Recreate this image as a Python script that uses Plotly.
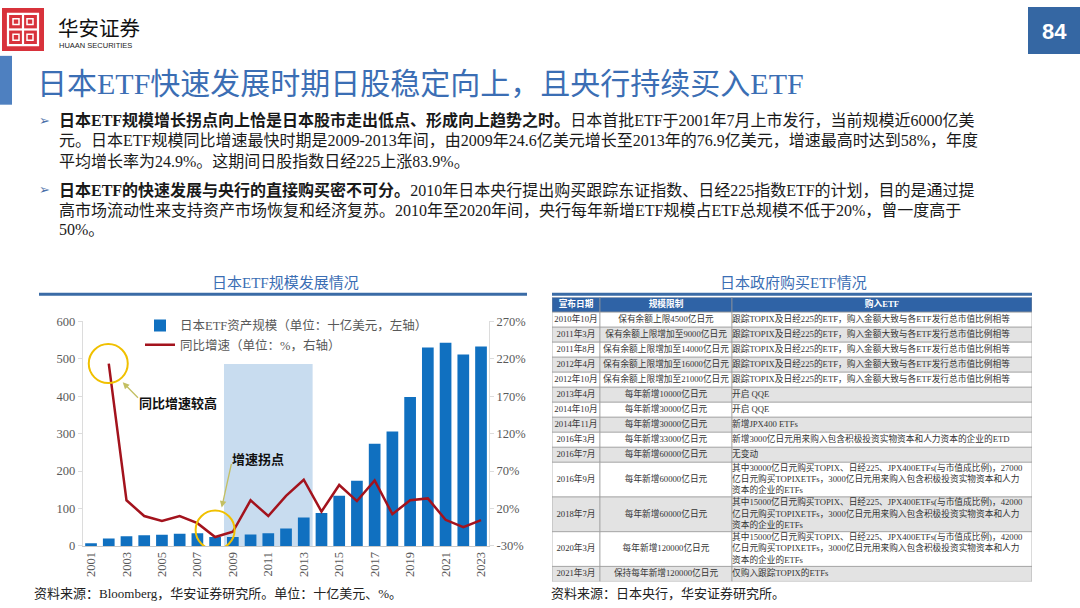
import plotly.graph_objects as go

# ---------------- data ----------------
years = list(range(2001, 2024))
etf_aum = [7, 20, 26, 29, 30, 33, 34, 24, 24, 31, 34, 47, 76, 88, 134, 174, 273, 306, 398, 530, 543, 511, 533]
yoy_growth = [None, 213.5, 31, 10, 3.5, 10, 0.5, -18, -11, 31, 10, 37, 58.5, 16, 51.5, 30, 57.5, 12.5, 31, 33.5, 5, -5, 4.5]
x_ticks = years[::2]
left_ticks = [0, 100, 200, 300, 400, 500, 600]
right_ticks = [-30, 20, 70, 120, 170, 220, 270]
highlight_years = (2009, 2013)
highlight_top = 486

tbl_header = ["宣布日期", "规模限制", "购入ETF"]
tbl_dates = ["2010年10月", "2011年3月", "2011年8月", "2012年4月", "2012年10月", "2013年4月",
             "2014年10月", "2014年11月", "2016年3月", "2016年7月", "2016年9月", "2018年7月",
             "2020年3月", "2021年3月"]
tbl_limits = ["保有余额上限4500亿日元", "保有余额上限增加至9000亿日元", "保有余额上限增加至14000亿日元",
              "保有余额上限增加至16000亿日元", "保有余额上限增加至21000亿日元", "每年新增10000亿日元",
              "每年新增30000亿日元", "每年新增30000亿日元", "每年新增33000亿日元", "每年新增60000亿日元",
              "每年新增60000亿日元", "每年新增60000亿日元", "每年新增120000亿日元", "保持每年新增120000亿日元"]
_same = "跟踪TOPIX及日经225的ETF，购入金额大致与各ETF发行总市值比例相等"
tbl_purchase = [_same, _same, _same, _same, _same, "开启 QQE", "开启 QQE", "新增JPX400 ETFs",
                "新增3000亿日元用来购入包含积极投资实物资本和人力资本的企业的ETD", "无变动",
                "其中30000亿日元购买TOPIX、日经225、JPX400ETFs(与市值成比例)，27000<br>亿日元购买TOPIXETFs，3000亿日元用来购入包含积极投资实物资本和人力<br>资本的企业的ETFs",
                "其中15000亿日元购买TOPIX、日经225、JPX400ETFs(与市值成比例)，42000<br>亿日元购买TOPIXETFs，3000亿日元用来购入包含积极投资实物资本和人力<br>资本的企业的ETFs",
                "其中15000亿日元购买TOPIX、日经225、JPX400ETFs(与市值成比例)，42000<br>亿日元购买TOPIXETFs，3000亿日元用来购入包含积极投资实物资本和人力<br>资本的企业的ETFs",
                "仅购入跟踪TOPIX的ETFs"]

# ---------------- style ----------------
W, H = 1080, 608
SERIF = "Liberation Serif, Noto Sans CJK SC"
CJK = "Noto Sans CJK SC"
BLUE_T = "#3b6eb4"
BAR_C = "#1070c0"
LINE_C = "#a3131d"
CIRC_C = "#f0c000"
ARROW_C = "#c3bf62"
COL_W = [48, 132, 300]
HDR_H = 16
ROW_BASE, ROW_LINE = 5.5, 10.5
TBL_FS = 8.7


def px(x):
    return x / W


def py(y):
    return 1 - y / H


fig = go.Figure()

fig.add_trace(go.Bar(x=years, y=etf_aum, name="日本ETF资产规模（单位：十亿美元，左轴）",
                     marker=dict(color=BAR_C, line=dict(width=0)), width=0.66, yaxis="y"))
fig.add_trace(go.Scatter(x=years, y=yoy_growth, name="同比增速（单位：%，右轴）", mode="lines",
                         line=dict(color=LINE_C, width=2.5), yaxis="y2"))

# ---------------- table geometry (in table-axis units) ----------------
n_lines = [t.count("<br>") + 1 for t in tbl_purchase]
row_h = [HDR_H] + [ROW_BASE + ROW_LINE * n for n in n_lines]
y_edges = [0]
for h in row_h:
    y_edges.append(y_edges[-1] + h)
x_edges = [0]
for w in COL_W:
    x_edges.append(x_edges[-1] + w)
y_mid = [(y_edges[i] + y_edges[i + 1]) / 2 for i in range(len(row_h))]
x_mid = [(x_edges[i] + x_edges[i + 1]) / 2 for i in range(len(COL_W))]

shapes = []
row_fill = ["#2f63a6"] + ["#ffffff" if i % 2 == 0 else "#e3e3e3" for i in range(len(tbl_dates))]
for r in range(len(row_h)):
    for c in range(len(COL_W)):
        shapes.append(dict(type="rect", xref="x3", yref="y3", x0=x_edges[c], x1=x_edges[c + 1],
                           y0=y_edges[r], y1=y_edges[r + 1], fillcolor=row_fill[r],
                           line=dict(color="#9a9a9a", width=0.7), layer="below"))

# header text
fig.add_trace(go.Scatter(x=x_mid, y=[y_mid[0]] * 3, text=["<b>%s</b>" % t for t in tbl_header],
                         mode="text", textposition="middle center", xaxis="x3", yaxis="y3",
                         textfont=dict(size=TBL_FS, color="white", family=SERIF), showlegend=False,
                         hoverinfo="skip"))
# centred columns
fig.add_trace(go.Scatter(x=[x_mid[0]] * len(tbl_dates) + [x_mid[1]] * len(tbl_limits),
                         y=y_mid[1:] + y_mid[1:], text=tbl_dates + tbl_limits,
                         mode="text", textposition="middle center", xaxis="x3", yaxis="y3",
                         textfont=dict(size=TBL_FS, color="#333333", family=SERIF), showlegend=False,
                         hoverinfo="skip"))
# left-aligned column
fig.add_trace(go.Scatter(x=[x_edges[2]] * len(tbl_purchase), y=y_mid[1:], text=tbl_purchase,
                         mode="text", textposition="middle right", xaxis="x3", yaxis="y3",
                         textfont=dict(size=TBL_FS, color="#333333", family=SERIF), showlegend=False,
                         hoverinfo="skip"))

# highlight period
shapes.append(dict(type="rect", xref="x", yref="y", x0=highlight_years[0] - 0.5, x1=highlight_years[1] + 0.5,
                   y0=0, y1=highlight_top, fillcolor="#c8dcef", line=dict(width=0), layer="below"))
# circles around points
i02 = years.index(2002)
i08 = years.index(2008)
shapes.append(dict(type="circle", xref="x", yref="y2", xsizemode="pixel", ysizemode="pixel",
                   xanchor=years[i02], yanchor=yoy_growth[i02], x0=-20, x1=19, y0=-19.5, y1=19.5,
                   line=dict(color=CIRC_C, width=2)))
shapes.append(dict(type="circle", xref="x", yref="y2", xsizemode="pixel", ysizemode="pixel",
                   xanchor=years[i08], yanchor=yoy_growth[i08], x0=-19.5, x1=19.5, y0=-12.5, y1=26.5,
                   line=dict(color=CIRC_C, width=2)))
# slide decorations
shapes += [
    dict(type="rect", xref="paper", yref="paper", x0=px(2), x1=px(44), y0=py(45), y1=py(1),
         fillcolor="#d8323b", line=dict(width=0)),
    dict(type="rect", xref="paper", yref="paper", x0=px(8), x1=px(38), y0=py(39), y1=py(7),
         fillcolor="rgba(0,0,0,0)", line=dict(color="white", width=2.2)),
    dict(type="line", xref="paper", yref="paper", x0=px(23), x1=px(23), y0=py(39), y1=py(7),
         line=dict(color="white", width=2.2)),
    dict(type="line", xref="paper", yref="paper", x0=px(8), x1=px(38), y0=py(23), y1=py(23),
         line=dict(color="white", width=2.2)),
    dict(type="rect", xref="paper", yref="paper", x0=px(13), x1=px(19), y0=py(18), y1=py(12),
         fillcolor="rgba(0,0,0,0)", line=dict(color="white", width=1.5)),
    dict(type="rect", xref="paper", yref="paper", x0=px(27), x1=px(33), y0=py(18), y1=py(12),
         fillcolor="rgba(0,0,0,0)", line=dict(color="white", width=1.5)),
    dict(type="rect", xref="paper", yref="paper", x0=px(13), x1=px(19), y0=py(34), y1=py(28),
         fillcolor="rgba(0,0,0,0)", line=dict(color="white", width=1.5)),
    dict(type="rect", xref="paper", yref="paper", x0=px(27), x1=px(33), y0=py(34), y1=py(28),
         fillcolor="rgba(0,0,0,0)", line=dict(color="white", width=1.5)),
    dict(type="rect", xref="paper", yref="paper", x0=px(1028), x1=px(1080), y0=py(48), y1=py(0),
         fillcolor="#3567a3", line=dict(width=0)),
    dict(type="rect", xref="paper", yref="paper", x0=px(0), x1=px(12), y0=py(100), y1=py(50),
         fillcolor="#4e80c0", line=dict(width=0)),
    dict(type="line", xref="paper", yref="paper", x0=px(39), x1=px(527), y0=py(294), y1=py(294),
         line=dict(color="#3a6ba6", width=3)),
    dict(type="line", xref="paper", yref="paper", x0=px(552), x1=px(1032), y0=py(294), y1=py(294),
         line=dict(color="#3a6ba6", width=3)),
]

ann = []


def text(x, y, s, size, color="#1a1a1a", family=SERIF, xanchor="left"):
    ann.append(dict(xref="paper", yref="paper", x=px(x), y=py(y), text=s,
                    showarrow=False, xanchor=xanchor, yanchor="middle",
                    font=dict(size=size, color=color, family=family)))


# header
text(56, 20, "华安证券", 20.5, color="#111111", family=CJK)
text(57, 39, "HUAAN SECURITIES", 7.5, color="#222222", family="Liberation Sans")
text(1054, 25, "<b>84</b>", 22, color="white", family="Liberation Sans", xanchor="center")
text(35, 78, "日本ETF快速发展时期日股稳定向上，且央行持续买入ETF", 30, color=BLUE_T)

# bullets
BF = 16
for yy in (116, 187):
    text(37, yy, "➢", 13, color="#4a6fa8", family="DejaVu Sans")
text(57, 116, "<b>日本ETF规模增长拐点向上恰是日本股市走出低点、形成向上趋势之时。</b>日本首批ETF于2001年7月上市发行，当前规模近6000亿美", BF)
text(57, 137, "元。日本ETF规模同比增速最快时期是2009-2013年间，由2009年24.6亿美元增长至2013年的76.9亿美元，增速最高时达到58%，年度", BF)
text(57, 158, "平均增长率为24.9%。这期间日股指数日经225上涨83.9%。", BF)
text(57, 187, "<b>日本ETF的快速发展与央行的直接购买密不可分。</b>2010年日本央行提出购买跟踪东证指数、日经225指数ETF的计划，目的是通过提", BF)
text(57, 208, "高市场流动性来支持资产市场恢复和经济复苏。2010年至2020年间，央行每年新增ETF规模占ETF总规模不低于20%，曾一度高于", BF)
text(57, 228, "50%。", BF)

# panel titles and sources
text(285, 282, "日本ETF规模发展情况", 15, color=BLUE_T, xanchor="center")
text(793, 282, "日本政府购买ETF情况", 15, color=BLUE_T, xanchor="center")
text(32, 600, "资料来源：Bloomberg，华安证券研究所。单位：十亿美元、%。", 13, color="#222222")
text(549, 600, "资料来源：日本央行，华安证券研究所。", 13, color="#222222")

# chart callouts
ann.append(dict(xref="x", yref="y", x=2005.9, y=383, text="<b>同比增速较高</b>", showarrow=False,
                font=dict(size=13, color="#111111", family=CJK)))
ann.append(dict(xref="x", yref="y", x=2010.4, y=234, text="<b>增速拐点</b>", showarrow=False,
                font=dict(size=13, color="#111111", family=CJK)))
ann.append(dict(xref="x", yref="y2", x=years[i02], y=yoy_growth[i02], xshift=14, yshift=-18.7,
                ax=16.7, ay=17, text="", showarrow=True, arrowhead=2, arrowsize=1, arrowwidth=1.3,
                arrowcolor=ARROW_C))
ann.append(dict(xref="x", yref="y2", x=years[i08], y=yoy_growth[i08], xshift=6.6, yshift=29.5,
                ax=10, ay=-45, text="", showarrow=True, arrowhead=2, arrowsize=1, arrowwidth=1.3,
                arrowcolor=ARROW_C))

tickfont = dict(size=12.5, color="#595959", family="Liberation Serif")
fig.update_layout(
    width=W, height=H, margin=dict(l=0, r=0, t=0, b=0),
    paper_bgcolor="white", plot_bgcolor="rgba(0,0,0,0)",
    showlegend=True,
    legend=dict(x=px(140), y=py(311), xanchor="left", yanchor="top", bgcolor="rgba(0,0,0,0)",
                font=dict(size=12.5, color="#595959", family=SERIF), tracegroupgap=0, itemwidth=30),
    xaxis=dict(domain=[px(82.7), px(489)], range=[2000.53, 2023.45], tickvals=x_ticks,
               ticktext=[str(v) for v in x_ticks], tickangle=-90, tickfont=tickfont,
               showgrid=False, zeroline=False, showline=True, linecolor="#c8c8c8", linewidth=1,
               ticks="", anchor="y", fixedrange=True),
    yaxis=dict(domain=[py(551.7), py(321.7)], range=[0, 600], tickvals=left_ticks, tickfont=tickfont,
               showgrid=False, zeroline=False, showline=True, linecolor="#dcdcdc", ticks="outside",
               ticklen=4, tickcolor="#dcdcdc", anchor="x", fixedrange=True),
    yaxis2=dict(overlaying="y", side="right", range=[-30, 270], tickvals=right_ticks,
                ticktext=["%d%%" % v for v in right_ticks], tickfont=tickfont, showgrid=False,
                zeroline=False, showline=True, linecolor="#dcdcdc", ticks="outside", ticklen=4,
                tickcolor="#dcdcdc", anchor="x", fixedrange=True),
    xaxis3=dict(domain=[px(552), px(1032)], range=[0, x_edges[-1]], visible=False, anchor="y3",
                fixedrange=True),
    yaxis3=dict(domain=[py(588), py(297)], range=[y_edges[-1], 0], visible=False, anchor="x3",
                fixedrange=True),
    shapes=shapes, annotations=ann,
)

fig.write_html("out.html", post_script="document.body.style.margin='0';",
               config={"displayModeBar": False})
